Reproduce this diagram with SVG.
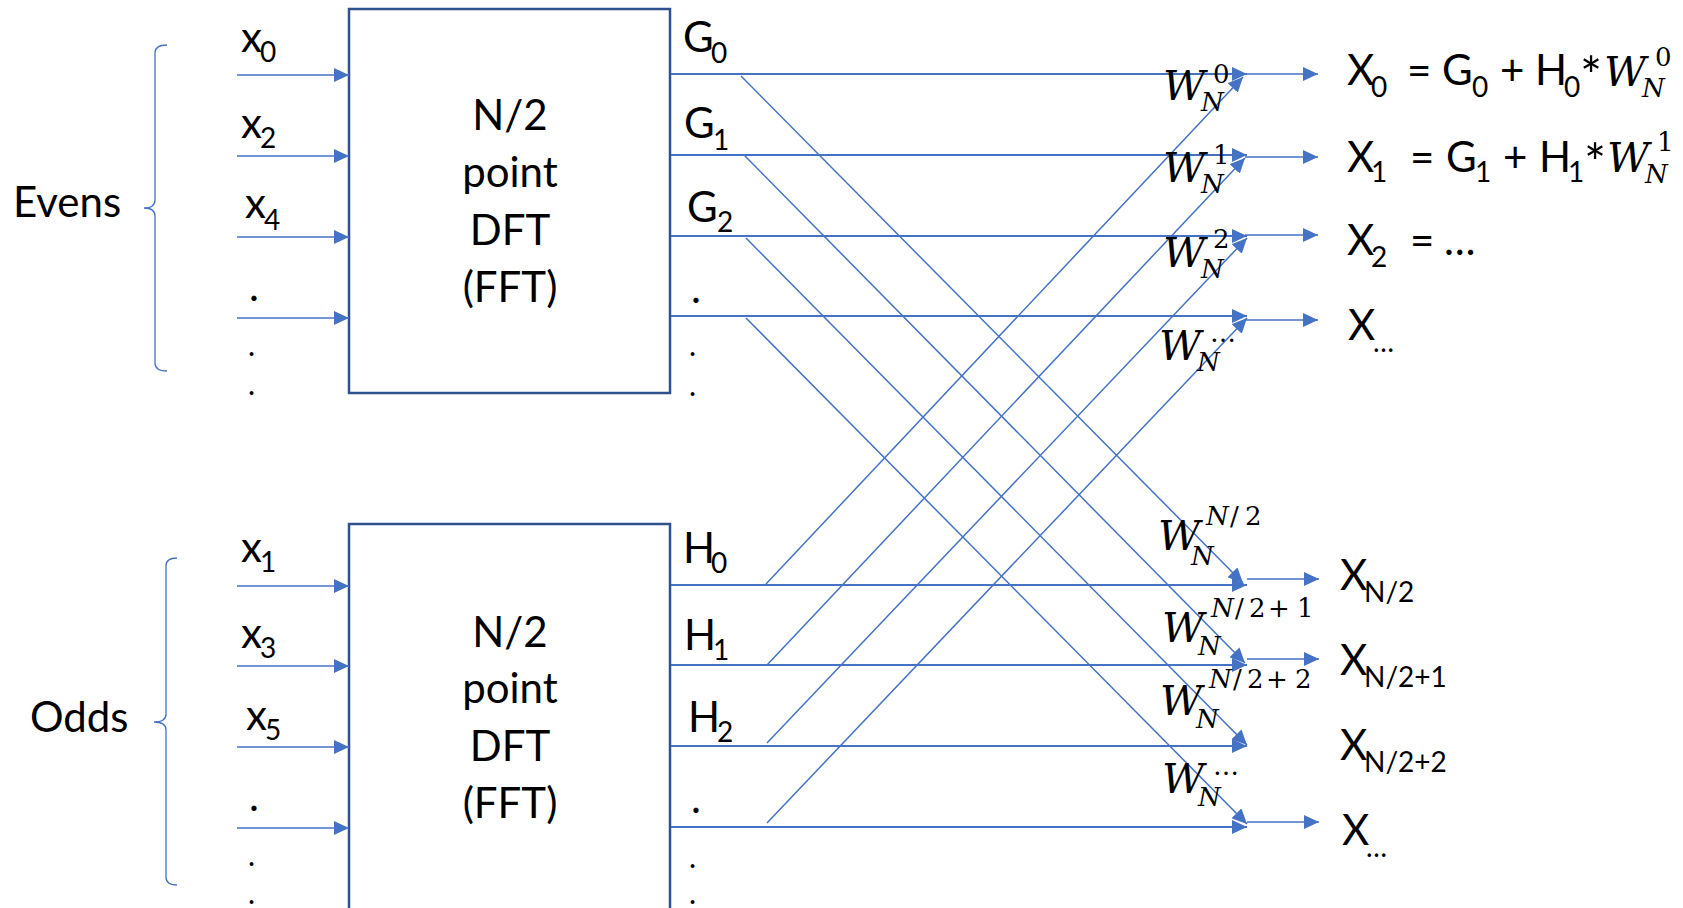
<svg xmlns="http://www.w3.org/2000/svg" width="1683" height="908" viewBox="0 0 1683 908">
<style>
.t{font-family:Lato,"Open Sans","Liberation Sans",sans-serif;font-size:42px;fill:#000}
.s{font-size:28px}
.d{font-size:30px}
.ast{font-size:52px}
.m{font-family:"DejaVu Serif",serif;font-style:italic;font-size:41px;fill:#000}
.mi{font-family:"DejaVu Serif",serif;font-style:italic;font-size:26px;fill:#000}
.mu{font-family:"DejaVu Serif",serif;font-style:normal;font-size:26px;fill:#000}
.ln{stroke:#4472C4;stroke-width:1.5;fill:none}
.hl{stroke:#4472C4;stroke-width:2;fill:none}
.br{stroke:#4472C4;stroke-width:1.3;fill:none}
.box{fill:#fff;stroke:#2F528F;stroke-width:2.5}
.c{text-anchor:middle}
</style>
<defs>
<marker id="ah" markerUnits="userSpaceOnUse" markerWidth="16" markerHeight="14" refX="15" refY="7" orient="auto">
<path d="M0,0 L15,7 L0,14 z" fill="#4472C4"/>
</marker>
</defs>

<g id="evens-brace">
<path class="br" d="M167,45 Q155,45 155,53 L155,200 Q155,208 144,208 Q155,208 155,216 L155,363 Q155,371 167,371"/>
<text class="t" x="13" y="217">Evens</text>
</g>
<g id="odds-brace">
<path class="br" d="M177,558 Q166,558 166,566 L166,714 Q166,722 154,722 Q166,722 166,730 L166,877 Q166,885 177,885"/>
<text class="t" x="30" y="732">Odds</text>
</g>

<g id="inputs-even">
<text class="t" x="241" y="52">x<tspan class="s" x="260" y="62">0</tspan></text>
<text class="t" x="241" y="138">x<tspan class="s" x="260" y="148">2</tspan></text>
<text class="t" x="245" y="218">x<tspan class="s" x="264" y="230">4</tspan></text>
<text class="t" x="249" y="301">.</text>
<text class="t d" x="248" y="356">.</text>
<text class="t d" x="248" y="395">.</text>
</g>
<g id="inputs-odd">
<text class="t" x="241" y="562">x<tspan class="s" x="260" y="572">1</tspan></text>
<text class="t" x="241" y="648">x<tspan class="s" x="260" y="658">3</tspan></text>
<text class="t" x="246" y="730">x<tspan class="s" x="265" y="740">5</tspan></text>
<text class="t" x="249" y="811">.</text>
<text class="t d" x="248" y="866">.</text>
<text class="t d" x="248" y="904">.</text>
</g>

<g id="fft-evens">
<rect class="box" x="349" y="9" width="321" height="384"/>
<text class="t c" x="510" y="130">N/2</text>
<text class="t c" x="510" y="187">point</text>
<text class="t c" x="510" y="245">DFT</text>
<text class="t c" x="510" y="302">(FFT)</text>
</g>
<g id="fft-odds">
<rect class="box" x="349" y="524" width="321" height="390"/>
<text class="t c" x="510" y="647">N/2</text>
<text class="t c" x="510" y="703">point</text>
<text class="t c" x="510" y="761">DFT</text>
<text class="t c" x="510" y="818">(FFT)</text>
</g>

<g id="g-labels">
<text class="t" x="683" y="52">G<tspan class="s" x="711" y="63">0</tspan></text>
<text class="t" x="684" y="138">G<tspan class="s" x="713" y="150">1</tspan></text>
<text class="t" x="687" y="222">G<tspan class="s" x="717" y="232">2</tspan></text>
<text class="t" x="691" y="303">.</text>
<text class="t d" x="689" y="356">.</text>
<text class="t d" x="689" y="396">.</text>
</g>
<g id="h-labels">
<text class="t" x="683" y="563">H<tspan class="s" x="711" y="573">0</tspan></text>
<text class="t" x="684" y="650">H<tspan class="s" x="713" y="660">1</tspan></text>
<text class="t" x="688" y="732">H<tspan class="s" x="717" y="742">2</tspan></text>
<text class="t" x="691" y="813">.</text>
<text class="t d" x="689" y="868">.</text>
<text class="t d" x="689" y="904">.</text>
</g>

<g id="connectors">
<line class="ln" x1="237" y1="75" x2="349" y2="75" marker-end="url(#ah)"/>
<line class="ln" x1="237" y1="156" x2="349" y2="156" marker-end="url(#ah)"/>
<line class="ln" x1="237" y1="237" x2="349" y2="237" marker-end="url(#ah)"/>
<line class="ln" x1="237" y1="318" x2="349" y2="318" marker-end="url(#ah)"/>
<line class="ln" x1="237" y1="586" x2="349" y2="586" marker-end="url(#ah)"/>
<line class="ln" x1="237" y1="666" x2="349" y2="666" marker-end="url(#ah)"/>
<line class="ln" x1="237" y1="747" x2="349" y2="747" marker-end="url(#ah)"/>
<line class="ln" x1="237" y1="828" x2="349" y2="828" marker-end="url(#ah)"/>
<line class="hl" x1="671" y1="74" x2="1247" y2="74" marker-end="url(#ah)"/>
<line class="hl" x1="671" y1="155" x2="1247" y2="155" marker-end="url(#ah)"/>
<line class="hl" x1="671" y1="236" x2="1247" y2="236" marker-end="url(#ah)"/>
<line class="hl" x1="671" y1="316" x2="1247" y2="316" marker-end="url(#ah)"/>
<line class="hl" x1="671" y1="585" x2="1247" y2="585" marker-end="url(#ah)"/>
<line class="hl" x1="671" y1="665" x2="1247" y2="665" marker-end="url(#ah)"/>
<line class="hl" x1="671" y1="746" x2="1247" y2="746" marker-end="url(#ah)"/>
<line class="hl" x1="671" y1="827" x2="1247" y2="827" marker-end="url(#ah)"/>
<line class="ln" x1="741" y1="76" x2="1243" y2="583" marker-end="url(#ah)"/>
<line class="ln" x1="745" y1="156" x2="1245" y2="663" marker-end="url(#ah)"/>
<line class="ln" x1="746" y1="238" x2="1247" y2="745" marker-end="url(#ah)"/>
<line class="ln" x1="746" y1="318" x2="1247" y2="824" marker-end="url(#ah)"/>
<line class="ln" x1="766" y1="584" x2="1243" y2="77" marker-end="url(#ah)"/>
<line class="ln" x1="767" y1="665" x2="1245" y2="158" marker-end="url(#ah)"/>
<line class="ln" x1="767" y1="743" x2="1247" y2="238" marker-end="url(#ah)"/>
<line class="ln" x1="767" y1="823" x2="1247" y2="318" marker-end="url(#ah)"/>
<line class="ln" x1="1245" y1="74" x2="1318" y2="74" marker-end="url(#ah)"/>
<line class="ln" x1="1245" y1="157" x2="1318" y2="157" marker-end="url(#ah)"/>
<line class="ln" x1="1245" y1="235" x2="1318" y2="235" marker-end="url(#ah)"/>
<line class="ln" x1="1245" y1="320" x2="1318" y2="320" marker-end="url(#ah)"/>
<line class="ln" x1="1247" y1="579" x2="1319" y2="579" marker-end="url(#ah)"/>
<line class="ln" x1="1247" y1="659" x2="1319" y2="659" marker-end="url(#ah)"/>
<line class="ln" x1="1247" y1="822" x2="1319" y2="822" marker-end="url(#ah)"/>
</g>

<g id="twiddles-top">
<text class="m" x="1163" y="100">W</text><text class="mi" x="1201" y="111">N</text><text class="mu" x="1213" y="83">0</text>
<text class="m" x="1163" y="182">W</text><text class="mi" x="1201" y="193">N</text><text class="mu" x="1213" y="164">1</text>
<text class="m" x="1163" y="267">W</text><text class="mi" x="1201" y="278">N</text><text class="mu" x="1213" y="248">2</text>
<text class="m" x="1159" y="360">W</text><text class="mi" x="1197" y="371">N</text><text class="mu" x="1210" y="342">…</text>
</g>
<g id="twiddles-bottom">
<text class="m" x="1158" y="550">W</text><text class="mi" x="1191" y="565">N</text>
<text class="mi" y="525"><tspan x="1206">N</tspan><tspan class="mu" x="1230">/</tspan><tspan class="mu" x="1245">2</tspan></text>
<text class="m" x="1162" y="642">W</text><text class="mi" x="1198" y="655">N</text>
<text class="mi" y="617"><tspan x="1211">N</tspan><tspan class="mu" x="1235">/</tspan><tspan class="mu" x="1249">2</tspan><tspan class="mu" x="1268">+</tspan><tspan class="mu" x="1297">1</tspan></text>
<text class="m" x="1160" y="715">W</text><text class="mi" x="1196" y="728">N</text>
<text class="mi" y="688"><tspan x="1209">N</tspan><tspan class="mu" x="1233">/</tspan><tspan class="mu" x="1247">2</tspan><tspan class="mu" x="1266">+</tspan><tspan class="mu" x="1295">2</tspan></text>
<text class="m" x="1162" y="793">W</text><text class="mi" x="1198" y="806">N</text><text class="mu" x="1213" y="775">…</text>
</g>

<g id="outputs-top">
<text class="t" y="85"><tspan x="1347">X</tspan><tspan class="s" x="1371" y="97">0</tspan><tspan x="1407" y="85">=</tspan><tspan x="1442">G</tspan><tspan class="s" x="1472" y="97">0</tspan><tspan x="1500" y="85">+</tspan><tspan x="1535">H</tspan><tspan class="s" x="1564" y="97">0</tspan><tspan class="ast" x="1580" y="95">*</tspan></text>
<text class="m" x="1604" y="86">W</text><text class="mi" x="1642" y="97">N</text><text class="mu" x="1655" y="66">0</text>
<text class="t" y="172"><tspan x="1347">X</tspan><tspan class="s" x="1371" y="182">1</tspan><tspan x="1410" y="172">=</tspan><tspan x="1446">G</tspan><tspan class="s" x="1475" y="182">1</tspan><tspan x="1503" y="172">+</tspan><tspan x="1539">H</tspan><tspan class="s" x="1568" y="182">1</tspan><tspan class="ast" x="1584" y="182">*</tspan></text>
<text class="m" x="1607" y="172">W</text><text class="mi" x="1645" y="183">N</text><text class="mu" x="1657" y="151">1</text>
<text class="t" y="255"><tspan x="1347">X</tspan><tspan class="s" x="1371" y="267">2</tspan><tspan x="1410" y="255">=</tspan><tspan x="1444">…</tspan></text>
<text class="t" y="340"><tspan x="1348">X</tspan><tspan class="s" x="1373" y="352">…</tspan></text>
</g>
<g id="outputs-bottom">
<text class="t" y="590"><tspan x="1340">X</tspan><tspan class="s" x="1364" y="602">N/2</tspan></text>
<text class="t" y="675"><tspan x="1340">X</tspan><tspan class="s" x="1364" y="687">N/2+1</tspan></text>
<text class="t" y="760"><tspan x="1340">X</tspan><tspan class="s" x="1364" y="772">N/2+2</tspan></text>
<text class="t" y="845"><tspan x="1342">X</tspan><tspan class="s" x="1366" y="857">…</tspan></text>
</g>
</svg>
